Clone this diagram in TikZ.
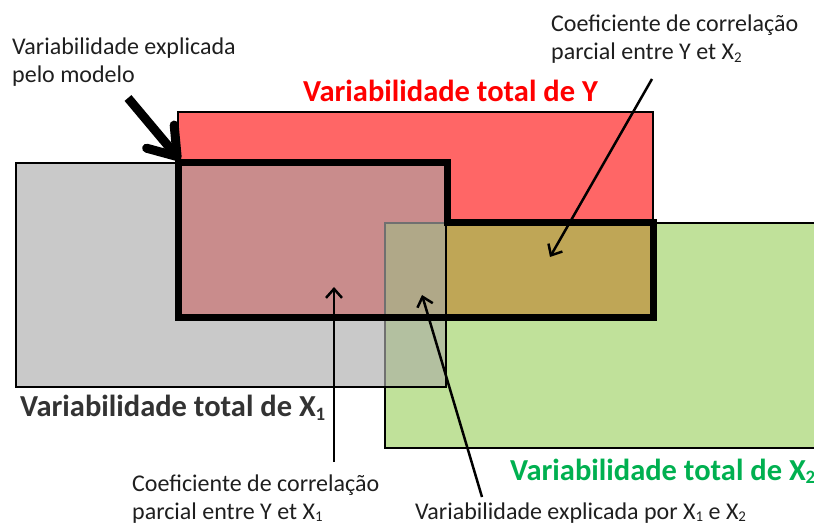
\documentclass[tikz,border=0pt]{standalone}
\usepackage{fontspec}
\setmainfont{Carlito}
\usetikzlibrary{arrows.meta}

\definecolor{cinza}{HTML}{C9C9C9}
\definecolor{vermelho}{HTML}{FF6666}
\definecolor{verde}{HTML}{C0E19A}
\definecolor{cinzaverm}{HTML}{C98C8C}
\definecolor{cinzaverde}{HTML}{B3C0A0}
\definecolor{triplo}{HTML}{B0A888}
\definecolor{vermverde}{HTML}{BFA656}
\definecolor{bordafraca}{HTML}{707070}
\definecolor{textoY}{HTML}{FF0000}
\definecolor{textoX}{HTML}{00B050}

\newcommand{\indice}[1]{\raisebox{-0.1em}{\scalebox{0.62}{#1}}}

\tikzset{
  legenda/.style={inner sep=0pt, align=left, text=black!88, font=\fontsize{24}{28}\selectfont},
  titulo/.style={inner sep=0pt, font=\bfseries\fontsize{30.5}{34}\selectfont},
  seta/.style={line width=2.5pt, -{Straight Barb[length=9pt,width=16pt]}},
  setagrossa/.style={line width=9pt, -{Straight Barb[round,length=26pt,width=36pt]}},
}

\begin{document}
\begin{tikzpicture}[x=1pt,y=-1pt]
    \useasboundingbox (0,0) rectangle (814,526);

    % the three sets
    \fill[vermelho] (178,112) rectangle (653,318);
    \fill[verde] (385,223) rectangle (818,448);
    \fill[cinza] (16,163) rectangle (446,387);

    % overlaps
    \fill[cinzaverm] (178,163) rectangle (446,318);
    \fill[cinzaverde] (385,318) rectangle (446,387);
    \fill[triplo] (385,223) rectangle (446,318);
    \fill[vermverde] (446,223) rectangle (653,318);

    % borders
    \draw[line width=2pt] (178,112) rectangle (653,318);
    \draw[line width=2pt] (385,387) -- (385,448) -- (818,448);
    \draw[line width=2pt] (446,223) -- (818,223);
    \draw[line width=2pt, bordafraca] (385,387) -- (385,223) -- (446,223);
    \draw[line width=2pt] (16,163) rectangle (446,387);

    % explained by the model
    \draw[line width=7pt, line join=miter] (178,163) -- (447,163) -- (447,223)
        -- (653,223) -- (653,318) -- (178,318) -- cycle;

    % titles
    \node[titulo, text=textoY, anchor=base west] (totalY) at (303,102) {Variabilidade total de Y};
    \node[titulo, text=black!80, anchor=base west] (totalX1) at (20,417) {Variabilidade total de X\indice{1}};
    \node[titulo, text=textoX, anchor=base west] (totalX2) at (510,480) {Variabilidade total de X\indice{2}};

    % captions
    \node[legenda, anchor=base west] (modelo) at (12,83) {Variabilidade explicada\\pelo modelo};
    \node[legenda, anchor=base west] (parcialY2) at (551,60) {Coeficiente de correlação\\parcial entre Y et X\indice{2}};
    \node[legenda, anchor=base west] (parcialY1) at (132,519) {Coeficiente de correlação\\parcial entre Y et X\indice{1}};
    \node[legenda, anchor=base west] (ambos) at (415,519) {Variabilidade explicada por X\indice{1} e X\indice{2}};

    % arrows
    \coordinate (caudaModelo) at (128,98);
    \coordinate (canto) at (180,160);
    \coordinate (caudaY2) at (652,79);
    \coordinate (pontaY2) at (550,257);
    \coordinate (caudaY1) at (334,462);
    \coordinate (pontaY1) at (334,287);
    \coordinate (caudaAmbos) at (482,497);
    \coordinate (pontaAmbos) at (422,295);

    \draw[setagrossa] (caudaModelo) -- (canto);
    \draw[seta] (caudaY2) -- (pontaY2);
    \draw[seta] (caudaY1) -- (pontaY1);
    \draw[seta] (caudaAmbos) -- (pontaAmbos);
\end{tikzpicture}
\end{document}
